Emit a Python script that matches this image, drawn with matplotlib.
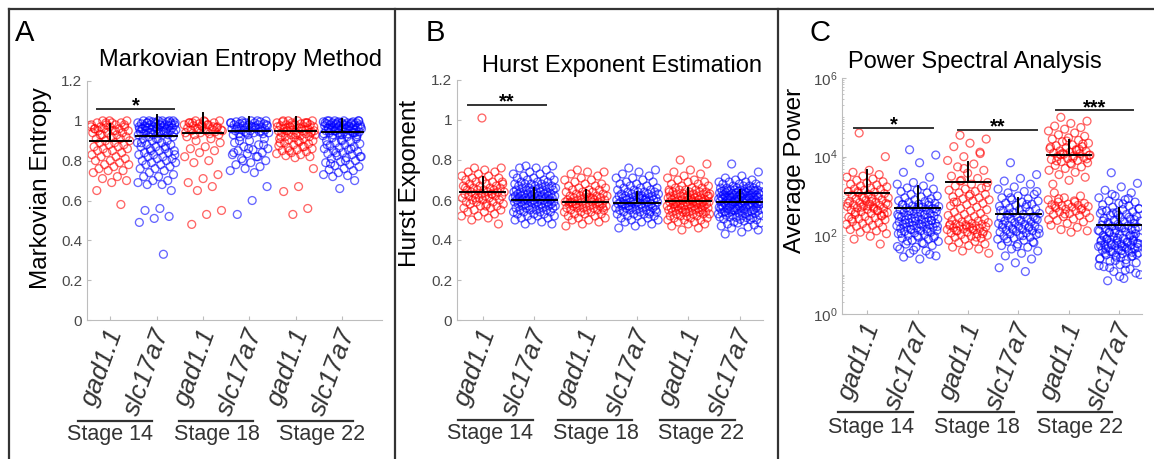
import matplotlib
matplotlib.use('Agg')
import matplotlib.pyplot as plt
from matplotlib.lines import Line2D
from matplotlib import transforms
from matplotlib.ticker import FixedLocator, LogLocator, NullFormatter
import numpy as np

plt.rcParams['font.family'] = ['Liberation Sans', 'DejaVu Sans']
plt.rcParams['mathtext.fontset'] = 'custom'
plt.rcParams['mathtext.rm'] = 'Liberation Sans'
plt.rcParams['mathtext.it'] = 'Liberation Sans:italic'

# ---- labels ----
genes = ['gad1.1', 'slc17a7'] * 3
stages = ['Stage 14', 'Stage 18', 'Stage 22']
colors = ['#ff0000', '#0000ff'] * 3

# ---- panel A: Markovian entropy ----
A_gad14 = [1.00, 1.00, 0.99, 0.99, 0.99, 0.98, 0.98, 0.98, 0.97, 0.97, 0.97, 0.96, 0.96, 0.96, 0.95, 0.95,
           0.95, 0.94, 0.94, 0.94, 0.93, 0.93, 0.92, 0.92, 0.91, 0.91, 0.90, 0.90, 0.89, 0.89, 0.88, 0.88,
           0.87, 0.87, 0.86, 0.86, 0.85, 0.85, 0.84, 0.84, 0.83, 0.82, 0.82, 0.81, 0.80, 0.80, 0.79, 0.78,
           0.78, 0.77, 0.76, 0.75, 0.75, 0.74, 0.72, 0.71, 0.70, 0.69, 0.65, 0.58, 0.99, 0.97, 0.95, 0.93,
           0.98, 1.00, 0.96]
A_slc14 = [1.00, 1.00, 1.00, 1.00, 0.995, 0.995, 0.99, 0.99, 0.99, 0.99, 0.985, 0.985, 0.98, 0.98, 0.98,
           0.98, 0.975, 0.975, 0.97, 0.97, 0.97, 0.965, 0.965, 0.96, 0.96, 0.96, 0.955, 0.955, 0.95, 0.95,
           0.95, 0.945, 0.945, 0.94, 0.94, 0.94, 0.935, 0.935, 0.93, 0.93, 0.93, 1.00, 0.99, 0.98, 0.97,
           0.96, 0.95, 0.94, 0.99, 0.98, 0.97, 1.00, 0.99, 0.96, 0.95,
           0.92, 0.92, 0.91, 0.91, 0.90, 0.90, 0.89, 0.89, 0.88, 0.88, 0.87, 0.87, 0.86, 0.86, 0.85, 0.85,
           0.84, 0.84, 0.83, 0.83, 0.82, 0.82, 0.81, 0.81, 0.80, 0.80, 0.79, 0.79, 0.78, 0.78, 0.77, 0.76,
           0.76, 0.75, 0.74, 0.73, 0.72, 0.72, 0.70, 0.70, 0.69, 0.68, 0.68, 0.65, 0.91, 0.89, 0.87, 0.85,
           0.83, 0.56, 0.55, 0.52, 0.51, 0.49, 0.33]
A_gad18 = [1.00, 1.00, 0.995, 0.99, 0.99, 0.985, 0.98, 0.98, 0.975, 0.97, 0.97, 0.965, 0.96, 0.96, 0.955,
           0.95, 0.95, 0.945, 0.94, 0.94, 0.935, 0.93, 0.93, 1.00, 0.99, 0.97, 0.96, 0.95, 0.98, 0.99, 0.965,
           0.975, 0.92, 0.91, 0.90, 0.89, 0.87, 0.86, 0.85, 0.84, 0.82, 0.80, 0.79, 0.73, 0.71, 0.69, 0.67,
           0.65, 0.55, 0.53, 0.48]
A_slc18 = [1.00, 1.00, 1.00, 0.995, 0.995, 0.99, 0.99, 0.99, 0.985, 0.985, 0.98, 0.98, 0.98, 0.975, 0.975,
           0.97, 0.97, 0.965, 0.965, 0.96, 0.96, 0.955, 0.955, 0.95, 0.95, 0.945, 0.945, 0.94, 0.94, 0.935,
           0.935, 0.93, 0.93, 1.00, 0.99, 0.98, 0.97, 0.96, 0.95, 0.94, 0.99, 0.97,
           0.92, 0.91, 0.90, 0.89, 0.88, 0.87, 0.86, 0.855, 0.85, 0.84, 0.835, 0.83, 0.82, 0.81, 0.80, 0.79,
           0.78, 0.77, 0.76, 0.75, 0.74, 0.90, 0.88, 0.86, 0.84, 0.82, 0.80, 0.67, 0.60, 0.53]
A_gad22 = [1.00, 1.00, 1.00, 0.995, 0.99, 0.99, 0.99, 0.985, 0.98, 0.98, 0.98, 0.975, 0.97, 0.97, 0.97,
           0.965, 0.96, 0.96, 0.955, 0.95, 0.95, 0.95, 0.945, 0.94, 0.94, 0.935, 0.93, 0.93, 0.925, 0.92,
           0.92, 0.915, 0.91, 0.91, 0.905, 0.90, 0.90, 1.00, 0.99, 0.98, 0.97, 0.96, 0.95, 0.94, 0.93, 0.92,
           0.99, 0.97, 0.95, 0.895, 0.89, 0.885, 0.88, 0.875, 0.87, 0.865, 0.86, 0.855, 0.85, 0.845, 0.84,
           0.835, 0.83, 0.825, 0.82, 0.815, 0.89, 0.87, 0.85, 0.76, 0.67, 0.645, 0.56, 0.53]
A_slc22 = [1.00, 1.00, 1.00, 1.00, 0.995, 0.995, 0.995, 0.99, 0.99, 0.99, 0.99, 0.985, 0.985, 0.985, 0.98,
           0.98, 0.98, 0.98, 0.975, 0.975, 0.975, 0.97, 0.97, 0.97, 0.965, 0.965, 0.965, 0.96, 0.96, 0.96,
           0.955, 0.955, 0.95, 0.95, 0.95, 0.945, 0.945, 0.94, 0.94, 0.94, 0.935, 0.935, 0.93, 0.93, 0.93,
           1.00, 0.99, 0.98, 0.97, 0.96, 0.95, 0.94, 0.93, 0.99, 0.97, 0.95, 1.00, 0.98, 0.96, 0.94, 0.99,
           0.925, 0.92, 0.915, 0.91, 0.905, 0.90, 0.895, 0.89, 0.885, 0.88, 0.875, 0.87, 0.865, 0.86, 0.855,
           0.85, 0.845, 0.84, 0.835, 0.83, 0.825, 0.82, 0.815, 0.81, 0.80, 0.795, 0.79, 0.78, 0.775, 0.77,
           0.76, 0.755, 0.75, 0.74, 0.73, 0.725, 0.72, 0.92, 0.90, 0.88, 0.86, 0.84, 0.82, 0.80, 0.785,
           0.70, 0.66]

# ---- panel B: Hurst exponent ----
B_gad14 = [0.76, 0.76, 0.75, 0.74, 0.74, 0.73, 0.72, 0.72, 0.71, 0.71, 0.70, 0.70, 0.69, 0.69, 0.68, 0.68,
           0.68, 0.67, 0.67, 0.67, 0.66, 0.66, 0.66, 0.65, 0.65, 0.65, 0.65, 0.64, 0.64, 0.64, 0.64, 0.63,
           0.63, 0.63, 0.63, 0.62, 0.62, 0.62, 0.62, 0.61, 0.61, 0.61, 0.60, 0.60, 0.60, 0.59, 0.59, 0.59,
           0.58, 0.58, 0.58, 0.57, 0.57, 0.56, 0.56, 0.55, 0.55, 0.54, 0.54, 0.53, 0.52, 0.52, 0.51, 0.50,
           0.48, 1.01, 0.66, 0.63, 0.61, 0.69, 0.57]
B_slc14 = [0.77, 0.77, 0.76, 0.76, 0.75, 0.74, 0.73, 0.73, 0.72, 0.72, 0.71, 0.71, 0.70, 0.70, 0.70, 0.69,
           0.69, 0.69, 0.68, 0.68, 0.68, 0.68, 0.67, 0.67, 0.67, 0.67, 0.66, 0.66, 0.66, 0.66, 0.66, 0.65,
           0.65, 0.65, 0.65, 0.65, 0.64, 0.64, 0.64, 0.64, 0.64, 0.64, 0.63, 0.63, 0.63, 0.63, 0.63, 0.63,
           0.62, 0.62, 0.62, 0.62, 0.62, 0.62, 0.62, 0.61, 0.61, 0.61, 0.61, 0.61, 0.61, 0.61, 0.60, 0.60,
           0.60, 0.60, 0.60, 0.60, 0.60, 0.59, 0.59, 0.59, 0.59, 0.59, 0.59, 0.58, 0.58, 0.58, 0.58, 0.58,
           0.58, 0.57, 0.57, 0.57, 0.57, 0.57, 0.56, 0.56, 0.56, 0.56, 0.56, 0.55, 0.55, 0.55, 0.55, 0.54,
           0.54, 0.54, 0.54, 0.53, 0.53, 0.53, 0.52, 0.52, 0.52, 0.51, 0.51, 0.50, 0.50, 0.49, 0.48, 0.48]
B_gad18 = [0.75, 0.74, 0.74, 0.73, 0.72, 0.71, 0.70, 0.70, 0.69, 0.68, 0.68, 0.67, 0.67, 0.66, 0.66, 0.65,
           0.65, 0.65, 0.64, 0.64, 0.64, 0.63, 0.63, 0.63, 0.62, 0.62, 0.62, 0.62, 0.61, 0.61, 0.61, 0.61,
           0.60, 0.60, 0.60, 0.60, 0.60, 0.59, 0.59, 0.59, 0.59, 0.59, 0.58, 0.58, 0.58, 0.58, 0.58, 0.57,
           0.57, 0.57, 0.57, 0.57, 0.56, 0.56, 0.56, 0.56, 0.55, 0.55, 0.55, 0.55, 0.54, 0.54, 0.54, 0.53,
           0.53, 0.53, 0.52, 0.52, 0.51, 0.51, 0.50, 0.50, 0.49, 0.48, 0.47, 0.61, 0.58, 0.56, 0.63, 0.59]
B_slc18 = [0.76, 0.75, 0.74, 0.73, 0.72, 0.71, 0.71, 0.70, 0.69, 0.69, 0.68, 0.68, 0.67, 0.67, 0.66, 0.66,
           0.66, 0.65, 0.65, 0.65, 0.64, 0.64, 0.64, 0.64, 0.63, 0.63, 0.63, 0.63, 0.62, 0.62, 0.62, 0.62,
           0.62, 0.61, 0.61, 0.61, 0.61, 0.61, 0.60, 0.60, 0.60, 0.60, 0.60, 0.60, 0.59, 0.59, 0.59, 0.59,
           0.59, 0.58, 0.58, 0.58, 0.58, 0.58, 0.58, 0.57, 0.57, 0.57, 0.57, 0.57, 0.56, 0.56, 0.56, 0.56,
           0.56, 0.55, 0.55, 0.55, 0.55, 0.54, 0.54, 0.54, 0.54, 0.53, 0.53, 0.53, 0.52, 0.52, 0.52, 0.51,
           0.51, 0.50, 0.50, 0.49, 0.49, 0.48, 0.47, 0.46, 0.60, 0.57, 0.55, 0.62, 0.58, 0.53, 0.59]
B_gad22 = [0.80, 0.78, 0.75, 0.74, 0.73, 0.72, 0.71, 0.70, 0.70, 0.69, 0.69, 0.68, 0.68, 0.67, 0.67, 0.66,
           0.66, 0.66, 0.65, 0.65, 0.65, 0.65, 0.64, 0.64, 0.64, 0.64, 0.63, 0.63, 0.63, 0.63, 0.63, 0.62,
           0.62, 0.62, 0.62, 0.62, 0.61, 0.61, 0.61, 0.61, 0.61, 0.61, 0.60, 0.60, 0.60, 0.60, 0.60, 0.60,
           0.59, 0.59, 0.59, 0.59, 0.59, 0.59, 0.58, 0.58, 0.58, 0.58, 0.58, 0.58, 0.57, 0.57, 0.57, 0.57,
           0.57, 0.57, 0.56, 0.56, 0.56, 0.56, 0.56, 0.56, 0.55, 0.55, 0.55, 0.55, 0.55, 0.54, 0.54, 0.54,
           0.54, 0.54, 0.53, 0.53, 0.53, 0.53, 0.52, 0.52, 0.52, 0.52, 0.51, 0.51, 0.51, 0.50, 0.50, 0.50,
           0.49, 0.49, 0.48, 0.48, 0.47, 0.46, 0.45, 0.62, 0.60, 0.58, 0.56, 0.54, 0.64, 0.59]
B_slc22 = [0.78, 0.74, 0.72, 0.71, 0.70, 0.70, 0.69, 0.69, 0.69, 0.68, 0.68, 0.68, 0.67, 0.67, 0.67, 0.67,
           0.66, 0.66, 0.66, 0.66, 0.66, 0.65, 0.65, 0.65, 0.65, 0.65, 0.65, 0.641, 0.643, 0.645, 0.647,
           0.642, 0.644, 0.646, 0.631, 0.633, 0.635, 0.637, 0.632, 0.634, 0.636, 0.638, 0.621, 0.623, 0.625,
           0.627, 0.622, 0.624, 0.626, 0.628, 0.611, 0.613, 0.615, 0.617, 0.619, 0.612, 0.614, 0.616, 0.618,
           0.601, 0.603, 0.605, 0.607, 0.609, 0.602, 0.604, 0.606, 0.608, 0.591, 0.593, 0.595, 0.597, 0.599,
           0.592, 0.594, 0.596, 0.598, 0.581, 0.583, 0.585, 0.587, 0.589, 0.582, 0.584, 0.586, 0.588, 0.571,
           0.573, 0.575, 0.577, 0.572, 0.574, 0.576, 0.578, 0.561, 0.563, 0.565, 0.567, 0.562, 0.564, 0.566,
           0.568, 0.551, 0.553, 0.555, 0.557, 0.552, 0.554, 0.556, 0.541, 0.543, 0.545, 0.547, 0.542, 0.544,
           0.546, 0.531, 0.533, 0.535, 0.532, 0.534, 0.536, 0.521, 0.523, 0.525, 0.522, 0.524, 0.511, 0.513,
           0.515, 0.512, 0.514, 0.501, 0.503, 0.505, 0.502, 0.49, 0.485, 0.495, 0.48, 0.475, 0.485, 0.47,
           0.465, 0.46, 0.45, 0.44, 0.43]

# ---- panel C: average power ----
C_gad14 = [40000, 10000, 4500, 4000, 3500, 3200, 3000, 2700, 2500, 2300, 2100, 2000, 1900, 1800, 1700, 1600,
           1500, 1450, 1400, 1300, 1250, 1200, 1150, 1100, 1050, 1000, 950, 900, 870, 840, 800, 770, 740,
           700, 680, 650, 620, 600, 580, 560, 540, 520, 500, 480, 460, 440, 420, 400, 380, 360, 340, 320,
           300, 290, 280, 265, 250, 240, 225, 210, 200, 190, 180, 170, 160, 150, 140, 130, 120, 110, 95, 80,
           60, 900, 650, 480, 1300, 350, 560, 260, 430, 520, 610, 720, 380, 310]
C_slc14 = [15000, 11000, 7000, 4000, 3000, 2200, 2000, 1800, 1600, 1500, 1400, 1300, 1200, 1100, 1000, 950,
           900, 850, 800, 760, 720, 680, 650, 620, 600, 580, 560, 540, 520, 500, 480, 460, 450, 440, 420,
           400, 390, 380, 360, 350, 340, 330, 320, 310, 300, 290, 280, 270, 260, 250, 245, 240, 230, 220,
           215, 210, 200, 195, 190, 185, 180, 175, 170, 165, 160, 155, 150, 145, 140, 135, 130, 125, 120,
           115, 110, 105, 100, 95, 90, 85, 80, 75, 70, 65, 60, 55, 50, 45, 40, 35, 30, 25, 28, 33, 42, 52,
           62, 72, 88, 98, 112, 128, 142, 168, 188, 205, 235, 265, 305, 345, 410, 470, 530, 610, 700]
C_gad18 = [35000, 28000, 22000, 18000, 13000, 10000, 8000, 6500, 5500, 4500, 3800, 3200, 2800, 2500, 2200,
           2000, 1800, 1600, 1500, 1400, 1300, 1200, 1100, 1000, 950, 900, 850, 800, 750, 700, 650, 600,
           560, 520, 480, 450, 420, 390, 360, 340, 320, 300, 280, 260, 250, 240, 230, 220, 210, 200, 195,
           190, 185, 180, 175, 170, 165, 160, 155, 150, 145, 140, 135, 130, 125, 120, 115, 110, 105, 100,
           95, 90, 85, 80, 75, 70, 65, 60, 55, 50, 45, 40, 35, 150, 130, 110, 170, 190, 90, 2400, 1700,
           1100, 700, 12000, 5000]
C_slc18 = [7000, 3500, 2800, 2400, 2000, 1700, 1500, 1300, 1200, 1100, 1000, 900, 850, 800, 750, 700, 660,
           620, 580, 550, 520, 490, 460, 440, 420, 400, 380, 360, 340, 320, 300, 290, 280, 270, 260, 250,
           240, 230, 220, 210, 200, 190, 180, 175, 170, 160, 155, 150, 145, 140, 135, 130, 125, 120, 115,
           110, 105, 100, 95, 90, 85, 80, 75, 70, 65, 60, 55, 50, 45, 40, 35, 30, 25, 20, 15, 12, 350, 270,
           230, 190, 165, 140, 112, 98, 82, 68, 52, 430, 610, 900, 1300]
C_gad22 = [100000, 80000, 70000, 60000, 55000, 50000, 45000, 40000, 36000, 33000, 30000, 28000, 26000,
           24000, 22000, 20000, 19000, 18000, 17000, 16000, 15000, 14000, 13500, 13000, 12500, 12000, 11500,
           11000, 10500, 10000, 9500, 9000, 8500, 8000, 7500, 7000, 6500, 6000, 5500, 5000, 4500, 4000,
           3500, 3000, 2500, 2000, 15500, 12200, 10800, 9200, 7800, 21000, 25000, 17500, 14500, 11200, 8800,
           6800, 1200, 1000, 900, 800, 750, 700, 650, 620, 600, 580, 560, 540, 520, 500, 480, 460, 440, 420,
           400, 380, 360, 340, 320, 300, 280, 260, 240, 220, 200, 180, 160, 140, 130, 120, 550, 450, 350,
           250, 700, 850]
C_slc22 = [3900, 2100, 1700, 1400, 1200, 1000, 900, 800, 750, 700, 650, 600, 560, 520, 480, 450, 420, 400,
           380, 360, 340, 320, 300, 285, 270, 255, 240, 230, 220, 210, 200, 190, 182, 175, 168, 160, 153,
           146, 140, 134, 128, 122, 116, 110, 105, 100, 96, 92, 88, 84, 80, 77, 74, 71, 68, 65, 62, 60, 58,
           56, 54, 52, 50, 48, 46, 44, 42, 40, 38, 36, 34, 32, 30, 28, 26, 24, 22, 20, 18, 16, 14, 12, 10,
           8, 7, 95, 85, 75, 66, 57, 49, 41, 35, 29, 23, 17, 13, 120, 145, 170, 230, 290, 370, 470, 630, 82,
           72, 63, 55, 47, 39, 33, 27, 90, 102, 115, 135, 155, 190, 250, 330, 430, 860, 1100, 62, 53, 45,
           37, 31, 25, 19, 15, 11, 9]

# means (horizontal bar) and top of the error bar
A_mean = [0.90, 0.925, 0.938, 0.95, 0.95, 0.945]
A_top = [0.983, 1.028, 1.037, 1.017, 1.02, 1.008]
B_mean = [0.64, 0.60, 0.59, 0.585, 0.595, 0.59]
B_top = [0.715, 0.66, 0.65, 0.64, 0.66, 0.65]
C_mean = [1200, 500, 2300, 350, 11000, 183]
C_top = [4600, 1800, 7400, 900, 27000, 500]

# significance bars: (x0, x1, y, label)
A_sig = [(0.72, 2.38, 1.06, '*')]
B_sig = [(0.71, 2.24, 1.075, '**')]
C_sig = [(0.74, 2.30, 5.4e4, '*'), (2.80, 4.36, 4.8e4, '**'), (4.75, 6.27, 1.5e5, '***')]

AX_COL = '#bdbdbd'
TXT_COL = '#4a4a4a'

fig = plt.figure(figsize=(11.54, 4.59), dpi=100)


def jitter(n, width=0.42):
    k = np.arange(n)
    return ((k * 0.6180339887 + 0.31) % 1.0 - 0.5) * 2 * width


def panel(rect, groups, means, tops, xlim, ylim, log=False):
    ax = fig.add_axes(rect)
    for i, vals in enumerate(groups):
        v = np.asarray(vals, float)
        ax.scatter(i + 1 + jitter(len(v)), v, s=32, facecolors='none',
                   edgecolors=colors[i], linewidths=0.95, alpha=0.6, zorder=2)
    for i in range(6):
        ax.plot([i + 0.56, i + 1.44], [means[i]] * 2, color='k', lw=1.4, zorder=3)
        ax.plot([i + 1, i + 1], [means[i], tops[i]], color='k', lw=1.4, zorder=3)
    if log:
        ax.set_yscale('log')
    ax.set_xlim(*xlim)
    ax.set_ylim(*ylim)
    for s in ['top', 'right']:
        ax.spines[s].set_visible(False)
    for s in ['left', 'bottom']:
        ax.spines[s].set_color(AX_COL)
    ax.tick_params(direction='in', length=3, color=AX_COL, labelcolor=TXT_COL, labelsize=11)
    ax.tick_params(which='minor', direction='in', length=1.5, color=AX_COL)
    ax.set_xticks(range(1, 7))
    ax.set_xticklabels(genes, rotation=70, rotation_mode='anchor', ha='right', va='center',
                       fontsize=19, style='italic', color='#333333')
    off = transforms.ScaledTranslation(6 / 100, -4 / 100, fig.dpi_scale_trans)
    for lab in ax.get_xticklabels():
        lab.set_transform(lab.get_transform() + off)
    return ax


def stage_labels(ax, lines, texts, y_line, y_text):
    tr = transforms.blended_transform_factory(ax.transData, ax.transAxes)
    for (x0, x1), xt, s in zip(lines, texts, stages):
        ax.add_line(Line2D([x0, x1], [y_line, y_line], transform=tr, color='#333333', lw=1.6,
                           clip_on=False))
        ax.text(xt, y_text, s, transform=tr, ha='center', va='center', fontsize=15.5, color='#333333')


def sig_bars(ax, bars):
    for x0, x1, y, s in bars:
        ax.plot([x0, x1], [y, y], color='#333333', lw=1.4, clip_on=False)
        ax.annotate(s, xy=((x0 + x1) / 2, y), xytext=(0, -2), textcoords='offset points',
                    ha='center', va='baseline', fontsize=14.5, fontweight='bold', annotation_clip=False)


# Panel A
axA = panel([87 / 1154, 139 / 459, 295 / 1154, 239 / 459],
            [A_gad14, A_slc14, A_gad18, A_slc18, A_gad22, A_slc22], A_mean, A_top, (0.5, 6.86), (0, 1.2))
axA.set_yticks([0, 0.2, 0.4, 0.6, 0.8, 1.0, 1.2])
axA.set_yticklabels(['0', '0.2', '0.4', '0.6', '0.8', '1', '1.2'])
axA.set_ylabel('Markovian Entropy', fontsize=17.5)
axA.yaxis.set_label_coords(-0.12, 0.55)
axA.text(0.52, 1.088, 'Markovian Entropy Method', transform=axA.transAxes, ha='center', va='center',
         fontsize=17)
stage_labels(axA, [(0.31, 1.91), (2.49, 4.08), (4.62, 6.24)], [1.0, 3.31, 5.57], -0.423, -0.48)
sig_bars(axA, A_sig)

# Panel B
axB = panel([457 / 1154, 139 / 459, 306 / 1154, 240 / 459],
            [B_gad14, B_slc14, B_gad18, B_slc18, B_gad22, B_slc22], B_mean, B_top, (0.5, 6.45), (0, 1.2))
axB.set_yticks([0, 0.2, 0.4, 0.6, 0.8, 1.0, 1.2])
axB.set_yticklabels(['0', '0.2', '0.4', '0.6', '0.8', '1', '1.2'])
axB.set_ylabel('Hurst Exponent', fontsize=17.5)
axB.yaxis.set_label_coords(-0.118, 0.567)
axB.text(0.54, 1.06, 'Hurst Exponent Estimation', transform=axB.transAxes, ha='center', va='center',
         fontsize=17)
stage_labels(axB, [(0.52, 1.97), (2.47, 3.91), (4.45, 5.90)], [1.14, 3.21, 5.24], -0.417, -0.475)
sig_bars(axB, B_sig)

# Panel C
axC = panel([842 / 1154, 145 / 459, 300 / 1154, 236 / 459],
            [C_gad14, C_slc14, C_gad18, C_slc18, C_gad22, C_slc22], C_mean, C_top, (0.5, 6.45), (1, 1e6),
            log=True)
axC.yaxis.set_major_locator(FixedLocator([1, 1e2, 1e4, 1e6]))
axC.yaxis.set_minor_locator(LogLocator(base=10, subs=np.arange(1, 10), numticks=100))
axC.yaxis.set_minor_formatter(NullFormatter())
axC.set_ylabel('Average Power', fontsize=17.5)
axC.yaxis.set_label_coords(-0.12, 0.61)
axC.text(0.443, 1.068, 'Power Spectral Analysis', transform=axC.transAxes, ha='center', va='center',
         fontsize=17)
stage_labels(axC, [(0.43, 1.91), (2.42, 3.92), (4.38, 5.86)], [1.08, 3.17, 5.23], -0.415, -0.479)
sig_bars(axC, C_sig)

# panel letters
for x, s in [(25, 'A'), (435, 'B'), (820, 'C')]:
    fig.text(x / 1154, 1 - 33 / 459, s, ha='center', va='center', fontsize=21)

# frame lines
ytop = 1 - 9 / 459
fig.add_artist(Line2D([9 / 1154, 1], [ytop, ytop], color='#333333', lw=1.6))
for x in [9, 395, 778]:
    fig.add_artist(Line2D([x / 1154, x / 1154], [0, ytop], color='#333333', lw=1.6))

fig.savefig('out.png', dpi=100)
